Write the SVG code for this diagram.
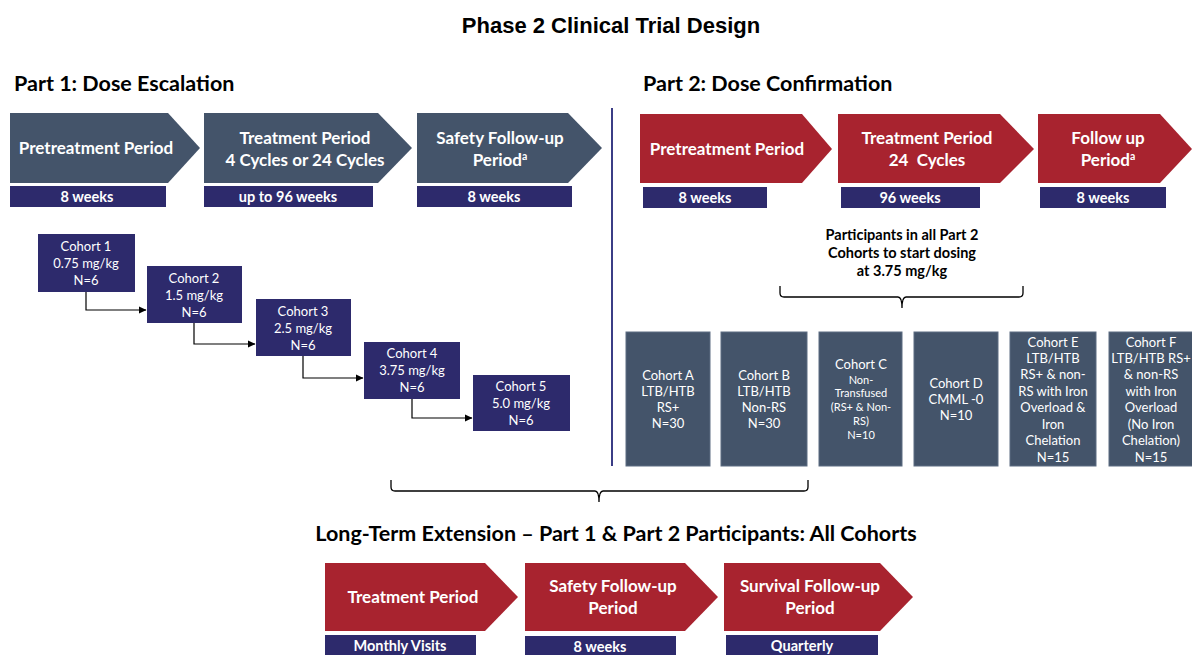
<svg xmlns="http://www.w3.org/2000/svg" width="1192" height="655" viewBox="0 0 1192 655">
<style>
.bg{fill:#ffffff}
.title{font-family:"Liberation Sans",Arial,sans-serif;font-weight:bold;font-size:22px;fill:#000}
.head{font-family:Lato,"Open Sans",sans-serif;font-weight:bold;font-size:21.5px;fill:#000}
.slate{fill:#44546a}
.red{fill:#a8232f}
.navy{fill:#2d2a6c}
.pt{font-family:Lato,"Open Sans",sans-serif;font-weight:bold;font-size:17px;fill:#fff;text-anchor:middle}
.bt{font-family:Lato,"Open Sans",sans-serif;font-weight:bold;font-size:14.5px;fill:#fff;text-anchor:middle}
.ct{font-family:Lato,"Open Sans",sans-serif;font-size:13px;fill:#fff;text-anchor:middle}
.cs{font-family:Lato,"Open Sans",sans-serif;font-size:11px;fill:#fff;text-anchor:middle}
.note{font-family:Lato,"Open Sans",sans-serif;font-weight:bold;font-size:14.5px;fill:#000;text-anchor:middle}
.cbox{fill:#44546a;stroke:#5d6c82;stroke-width:1}
.conn{fill:none;stroke:#000;stroke-width:1.2}
.brace{fill:none;stroke:#000;stroke-width:1.3}
.sup{font-size:10.5px}
</style>
<defs>
<marker id="ah" markerWidth="8" markerHeight="8" refX="7" refY="4" orient="auto" markerUnits="userSpaceOnUse">
<path d="M0,0.5 L7.5,4 L0,7.5 Z" fill="#000"/>
</marker>
</defs>
<rect class="bg" x="0" y="0" width="1192" height="655"/>
<text class="title" x="611" y="33" text-anchor="middle">Phase 2 Clinical Trial Design</text>
<text class="head" x="14" y="91">Part 1: Dose Escalation</text>
<text class="head" x="643" y="91">Part 2: Dose Confirmation</text>
<line x1="612" y1="108" x2="612" y2="466" stroke="#3b3d86" stroke-width="2"/>

<g id="p1-pretreatment">
<path class="slate" d="M10,113 H168 L200,148 L168,183 H10 Z"/>
<text class="pt" x="96" y="154">Pretreatment Period</text>
<rect class="navy" x="10" y="186" width="156" height="21"/>
<text class="bt" x="87" y="202">8 weeks</text>
</g>
<g id="p1-treatment">
<path class="slate" d="M204,113 H378 L412,148 L378,183 H204 Z"/>
<text class="pt" x="305" y="144">Treatment Period</text>
<text class="pt" x="305" y="166">4 Cycles or 24 Cycles</text>
<rect class="navy" x="204" y="186" width="169" height="21"/>
<text class="bt" x="288" y="202">up to 96 weeks</text>
</g>
<g id="p1-safety">
<path class="slate" d="M417,113 H568 L602,148 L568,183 H417 Z"/>
<text class="pt" x="500" y="144">Safety Follow-up</text>
<text class="pt" x="500" y="166">Period<tspan class="sup" dy="-6">a</tspan></text>
<rect class="navy" x="417" y="186" width="155" height="21"/>
<text class="bt" x="494" y="202">8 weeks</text>
</g>

<g id="p2-pretreatment">
<path class="red" d="M640,114 H802 L832,149 L802,183 H640 Z"/>
<text class="pt" x="727" y="155">Pretreatment Period</text>
<rect class="navy" x="643" y="187" width="124" height="21"/>
<text class="bt" x="705" y="203">8 weeks</text>
</g>
<g id="p2-treatment">
<path class="red" d="M838,114 H1000 L1034,149 L1000,183 H838 Z"/>
<text class="pt" x="927" y="144">Treatment Period</text>
<text class="pt" x="927" y="166" xml:space="preserve">24  Cycles</text>
<rect class="navy" x="841" y="187" width="139" height="21"/>
<text class="bt" x="910" y="203">96 weeks</text>
</g>
<g id="p2-followup">
<path class="red" d="M1038,114 H1160 L1192,149 L1160,183 H1038 Z"/>
<text class="pt" x="1108" y="144">Follow up</text>
<text class="pt" x="1108" y="166">Period<tspan class="sup" dy="-6">a</tspan></text>
<rect class="navy" x="1040" y="187" width="126" height="21"/>
<text class="bt" x="1103" y="203">8 weeks</text>
</g>

<g id="cohort1">
<rect class="navy" x="38" y="234" width="97" height="58"/>
<text class="ct" x="86" y="251">Cohort 1</text>
<text class="ct" x="86" y="268">0.75 mg/kg</text>
<text class="ct" x="86" y="285">N=6</text>
</g>
<g id="cohort2">
<rect class="navy" x="147" y="266" width="95" height="57"/>
<text class="ct" x="194" y="283">Cohort 2</text>
<text class="ct" x="194" y="300">1.5 mg/kg</text>
<text class="ct" x="194" y="317">N=6</text>
</g>
<g id="cohort3">
<rect class="navy" x="256" y="299" width="95" height="57"/>
<text class="ct" x="303" y="316">Cohort 3</text>
<text class="ct" x="303" y="333">2.5 mg/kg</text>
<text class="ct" x="303" y="350">N=6</text>
</g>
<g id="cohort4">
<rect class="navy" x="364" y="342" width="96" height="57"/>
<text class="ct" x="412" y="358">Cohort 4</text>
<text class="ct" x="412" y="375">3.75 mg/kg</text>
<text class="ct" x="412" y="392">N=6</text>
</g>
<g id="cohort5">
<rect class="navy" x="473" y="375" width="97" height="56"/>
<text class="ct" x="521" y="391">Cohort 5</text>
<text class="ct" x="521" y="408">5.0 mg/kg</text>
<text class="ct" x="521" y="425">N=6</text>
</g>

<text class="note" x="902" y="240">Participants in all Part 2</text>
<text class="note" x="902" y="258">Cohorts to start dosing</text>
<text class="note" x="902" y="276">at 3.75 mg/kg</text>

<g id="cohortA">
<rect class="cbox" x="626" y="332" width="84" height="134"/>
<text class="ct" x="668" y="380">Cohort A</text>
<text class="ct" x="668" y="396">LTB/HTB</text>
<text class="ct" x="668" y="412">RS+</text>
<text class="ct" x="668" y="428">N=30</text>
</g>
<g id="cohortB">
<rect class="cbox" x="721" y="332" width="86" height="134"/>
<text class="ct" x="764" y="380">Cohort B</text>
<text class="ct" x="764" y="396">LTB/HTB</text>
<text class="ct" x="764" y="412">Non-RS</text>
<text class="ct" x="764" y="428">N=30</text>
</g>
<g id="cohortC">
<rect class="cbox" x="819" y="332" width="83" height="134"/>
<text class="ct" x="861" y="369">Cohort C</text>
<text class="cs" x="861" y="384">Non-</text>
<text class="cs" x="861" y="397">Transfused</text>
<text class="cs" x="861" y="411">(RS+ &amp; Non-</text>
<text class="cs" x="861" y="425">RS)</text>
<text class="cs" x="861" y="439">N=10</text>
</g>
<g id="cohortD">
<rect class="cbox" x="914" y="332" width="84" height="134"/>
<text class="ct" x="956" y="388">Cohort D</text>
<text class="ct" x="956" y="404">CMML -0</text>
<text class="ct" x="956" y="420">N=10</text>
</g>
<g id="cohortE">
<rect class="cbox" x="1010" y="332" width="86" height="134"/>
<text class="ct" x="1053" y="347">Cohort E</text>
<text class="ct" x="1053" y="363">LTB/HTB</text>
<text class="ct" x="1053" y="379">RS+ &amp; non-</text>
<text class="ct" x="1053" y="396">RS with Iron</text>
<text class="ct" x="1053" y="412">Overload &amp;</text>
<text class="ct" x="1053" y="429">Iron</text>
<text class="ct" x="1053" y="445">Chelation</text>
<text class="ct" x="1053" y="462">N=15</text>
</g>
<g id="cohortF">
<rect class="cbox" x="1109" y="332" width="84" height="134"/>
<text class="ct" x="1151" y="347">Cohort F</text>
<text class="ct" x="1151" y="363">LTB/HTB RS+</text>
<text class="ct" x="1151" y="379">&amp; non-RS</text>
<text class="ct" x="1151" y="396">with Iron</text>
<text class="ct" x="1151" y="412">Overload</text>
<text class="ct" x="1151" y="429">(No Iron</text>
<text class="ct" x="1151" y="445">Chelation)</text>
<text class="ct" x="1151" y="462">N=15</text>
</g>

<g id="connectors">
<path class="conn" d="M86,292 V310 H146" marker-end="url(#ah)"/>
<path class="conn" d="M194,323 V344 H255" marker-end="url(#ah)"/>
<path class="conn" d="M303,356 V378 H363" marker-end="url(#ah)"/>
<path class="conn" d="M412,399 V418 H472" marker-end="url(#ah)"/>
<path class="brace" d="M780,286 V293 Q780,297 784,297 H898 Q902,297 902,308 Q902,297 906,297 H1019 Q1023,297 1023,293 V286"/>
<path class="brace" d="M391,480 V487 Q391,491 395,491 H595 Q599,491 599,502 Q599,491 603,491 H804 Q808,491 808,487 V480"/>
</g>

<text class="head" x="616" y="541" text-anchor="middle">Long-Term Extension – Part 1 &amp; Part 2 Participants: All Cohorts</text>

<g id="lte-treatment">
<path class="red" d="M325,563 H485 L518,597 L485,631 H325 Z"/>
<text class="pt" x="413" y="603">Treatment Period</text>
<rect class="navy" x="325" y="635" width="151" height="22"/>
<text class="bt" x="400" y="651">Monthly Visits</text>
</g>
<g id="lte-safety">
<path class="red" d="M525,563 H685 L718,597 L685,631 H525 Z"/>
<text class="pt" x="613" y="592">Safety Follow-up</text>
<text class="pt" x="613" y="614">Period</text>
<rect class="navy" x="525" y="636" width="151" height="22"/>
<text class="bt" x="600" y="652">8 weeks</text>
</g>
<g id="lte-survival">
<path class="red" d="M724,563 H880 L913,597 L880,631 H724 Z"/>
<text class="pt" x="810" y="592">Survival Follow-up</text>
<text class="pt" x="810" y="614">Period</text>
<rect class="navy" x="726" y="635" width="152" height="22"/>
<text class="bt" x="802" y="651">Quarterly</text>
</g>
</svg>
